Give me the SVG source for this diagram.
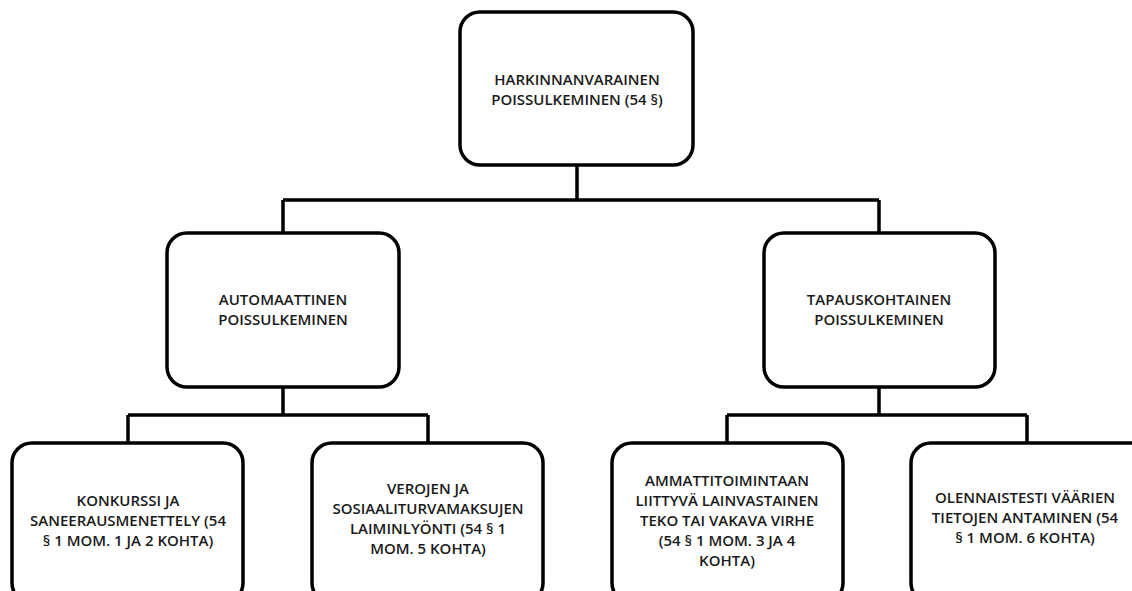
<svg xmlns="http://www.w3.org/2000/svg" width="1132" height="591" viewBox="0 0 1132 591">
<style>
.box{fill:#fff;stroke:#000;stroke-width:3.5}
.c{fill:none;stroke:#000;stroke-width:3.5}
text{font-family:"Open Sans","Liberation Sans",sans-serif;font-size:15px;font-weight:600;fill:#1a1a1a;text-anchor:middle;dominant-baseline:central}
</style>
<rect width="1132" height="591" fill="#fff"/>
<g id="connectors">
<path class="c" d="M577,165 V200 M283,200 H879 M283,200 V233 M879,200 V233"/>
<path class="c" d="M283,387 V415 M128,415 H428 M128,415 V443 M428,415 V443"/>
<path class="c" d="M879,387 V415 M727,415 H1027 M727,415 V443 M1027,415 V443"/>
</g>
<g id="n-root">
<rect class="box" x="460" y="12" width="233" height="153" rx="20"/>
<text x="577" y="79">HARKINNANVARAINEN</text>
<text x="577" y="99">POISSULKEMINEN (54 §)</text>
</g>
<g id="n-auto">
<rect class="box" x="167" y="233" width="232" height="154" rx="20"/>
<text x="283" y="299">AUTOMAATTINEN</text>
<text x="283" y="319">POISSULKEMINEN</text>
</g>
<g id="n-tapaus">
<rect class="box" x="764" y="233" width="231" height="154" rx="20"/>
<text x="879" y="299">TAPAUSKOHTAINEN</text>
<text x="879" y="319">POISSULKEMINEN</text>
</g>
<g id="n-konkurssi">
<rect class="box" x="12" y="443" width="231" height="160" rx="20"/>
<text x="128" y="500">KONKURSSI JA</text>
<text x="128" y="520">SANEERAUSMENETTELY (54</text>
<text x="128" y="540">§ 1 MOM. 1 JA 2 KOHTA)</text>
</g>
<g id="n-verojen">
<rect class="box" x="312" y="443" width="231" height="160" rx="20"/>
<text x="428" y="488">VEROJEN JA</text>
<text x="428" y="508">SOSIAALITURVAMAKSUJEN</text>
<text x="428" y="528">LAIMINLYÖNTI (54 § 1</text>
<text x="428" y="548">MOM. 5 KOHTA)</text>
</g>
<g id="n-ammatti">
<rect class="box" x="612" y="443" width="231" height="160" rx="20"/>
<text x="727" y="480">AMMATTITOIMINTAAN</text>
<text x="727" y="500">LIITTYVÄ LAINVASTAINEN</text>
<text x="727" y="520">TEKO TAI VAKAVA VIRHE</text>
<text x="727" y="540">(54 § 1 MOM. 3 JA 4</text>
<text x="727" y="560">KOHTA)</text>
</g>
<g id="n-olennaisesti">
<rect class="box" x="911" y="443" width="240" height="160" rx="20"/>
<text x="1025" y="497">OLENNAISTESTI VÄÄRIEN</text>
<text x="1025" y="517">TIETOJEN ANTAMINEN  (54</text>
<text x="1025" y="537">§ 1 MOM. 6 KOHTA)</text>
</g>
</svg>
